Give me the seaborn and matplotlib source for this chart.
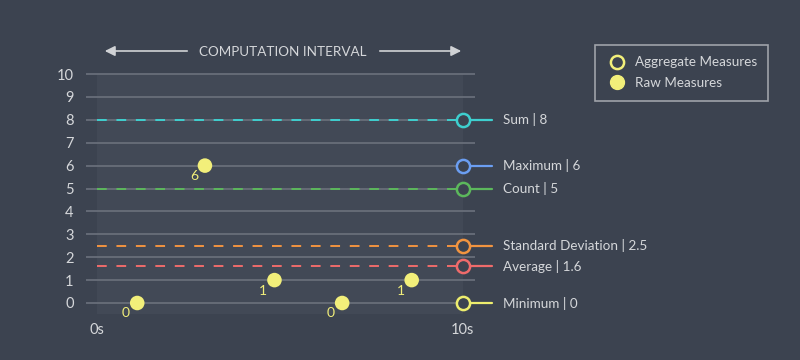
import matplotlib
matplotlib.use("Agg")
import matplotlib.pyplot as plt
import seaborn as sns
import pandas as pd
from matplotlib.lines import Line2D

# ---- data ----
raw_times = [1.1, 2.95, 4.85, 6.7, 8.6]
raw_values = [0, 6, 1, 0, 1]
agg_names = ["Sum", "Maximum", "Count", "Standard Deviation", "Average", "Minimum"]
agg_values = [8, 6, 5, 2.5, 1.6, 0]
agg_labels = ["8", "6", "5", "2.5", "1.6", "0"]
agg_colors = ["#3ecfcf", "#6b9ef2", "#5cb85c", "#f29440", "#ef6b6b", "#eeee6e"]
agg_dashed = [True, False, True, True, True, False]
y_ticks = list(range(0, 11))
x_tick_labels = ["0s", "10s"]

BG = "#3c4350"
BAND = "#424956"
GRID = "#686e79"
TXT = "#d5d7da"
YEL = "#f2ef7a"

sns.set_theme(style="dark")
plt.rcParams["font.family"] = ["Lato", "DejaVu Sans"]

fig = plt.figure(figsize=(8, 3.6), dpi=100, facecolor=BG)
W, H = 800, 360
ylo, yhi = -0.5, 10.5
ppu = (303 - 74) / 10.0
top_px = 74 - (yhi - 10) * ppu
bot_px = 303 + (0 - ylo) * ppu
ax = fig.add_axes([86 / W, (H - bot_px) / H, (475 - 86) / W, (bot_px - top_px) / H])
ax.set_facecolor(BG)
ax.set_xlim(-0.3, 10.33)
ax.set_ylim(ylo, yhi)
for s in ax.spines.values():
    s.set_visible(False)

# band
ax.add_patch(plt.Rectangle((0, -0.5), 10, 10.5, facecolor=BAND, edgecolor="none", zorder=0))

# gridlines
for t in y_ticks:
    ax.axhline(t, color=GRID, lw=1.3, zorder=1)
ax.set_yticks(y_ticks)
ax.set_yticklabels([str(t) for t in y_ticks], color=TXT, fontsize=10.5)
ax.tick_params(axis="y", length=0, pad=9)
ax.set_xticks([0, 10])
ax.set_xticklabels(x_tick_labels, color=TXT, fontsize=10.5)
ax.tick_params(axis="x", length=0, pad=6)
ax.grid(False)

# aggregate lines
for name, v, lab, c, d in zip(agg_names, agg_values, agg_labels, agg_colors, agg_dashed):
    if d:
        ax.plot([0, 10], [v, v], color=c, lw=1.4, dashes=(5, 5), zorder=2)
    ax.plot([10, 10.8], [v, v], color=c, lw=1.6, zorder=3, clip_on=False)
    ax.plot([10], [v], marker="o", ms=9.5, mfc=BG, mec=c, mew=1.8, zorder=4, clip_on=False)
    ax.text(11.1, v, f"{name} | {lab}", color=TXT, fontsize=9.7, va="center", ha="left", clip_on=False)

# raw points
df = pd.DataFrame({"t": raw_times, "v": raw_values})
sns.scatterplot(data=df, x="t", y="v", ax=ax, color=YEL, s=110, edgecolor="none", zorder=5, clip_on=False)
for t, v in zip(raw_times, raw_values):
    ax.annotate(str(v), (t, v), xytext=(-8, -7.5), textcoords="offset points",
                color=YEL, fontsize=10, ha="center", va="center")
ax.set_xlabel("")
ax.set_ylabel("")

# header with arrows
fig.text(283 / W, 1 - 52 / H, "COMPUTATION INTERVAL", color=TXT, fontsize=9.7, ha="center", va="center")
ya = 1 - 51 / H
fig.add_artist(matplotlib.patches.FancyArrowPatch((190 / W, ya), (102 / W, ya), transform=fig.transFigure,
               arrowstyle="-|>,head_length=6,head_width=3", color="#d0d2d5", lw=1.2))
fig.add_artist(matplotlib.patches.FancyArrowPatch((377 / W, ya), (464 / W, ya), transform=fig.transFigure,
               arrowstyle="-|>,head_length=6,head_width=3", color="#d0d2d5", lw=1.2))

# legend
handles = [
    Line2D([], [], ls="none", marker="o", ms=9.5, mfc=BG, mec=YEL, mew=1.8, label="Aggregate Measures"),
    Line2D([], [], ls="none", marker="o", ms=10, mfc=YEL, mec=YEL, label="Raw Measures"),
]
leg = fig.legend(handles=handles, loc="upper left", bbox_to_anchor=(595 / W, 1 - 45 / H),
                 frameon=True, facecolor=BG, edgecolor="#b8bbc0", fontsize=9.7, labelcolor=TXT,
                 borderpad=0.85, handletextpad=0.5, labelspacing=0.65, fancybox=False,
                 handlelength=1.6, borderaxespad=0)
leg.get_frame().set_linewidth(1.2)

fig.savefig("out.png", dpi=100, facecolor=BG)
